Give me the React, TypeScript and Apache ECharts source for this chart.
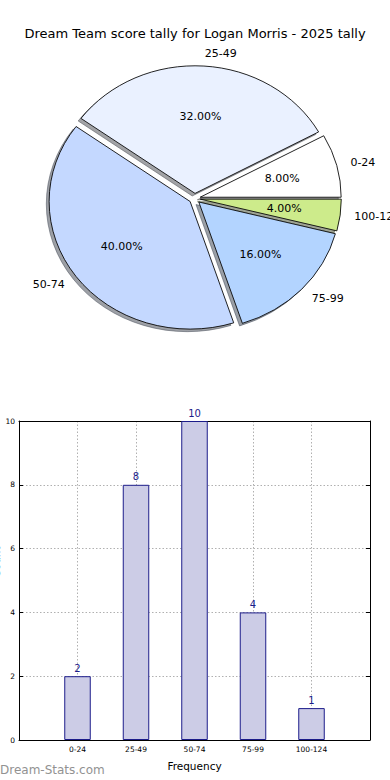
import React, { useEffect, useRef } from 'react';
import * as echarts from 'echarts';

const TITLE = 'Dream Team score tally for Logan Morris - 2025 tally';
const categories = ['0-24', '25-49', '50-74', '75-99', '100-124'];
const counts = [2, 8, 10, 4, 1];
const sliceColors = ['#ffffff', '#eaf1ff', '#c4d8ff', '#b3d4ff', '#cdeb8b'];
const yTickMax = 10;
const yTickStep = 2;
const X_NAME = 'Frequency';
const Y_NAME = 'Count';
const WATERMARK = 'Dream-Stats.com';

const FONT = '"DejaVu Sans", Verdana, sans-serif';
const CX = 194.7;
const CY = 198.5;
const RX = 141;
const RY = 127.6;
const EXPLODE = 0.04;
const SHADOW_DX = -0.02 * RX;
const SHADOW_DY = 0.02 * RY;

function shadowColor(hex: string) {
  const n = parseInt(hex.slice(1), 16);
  const r = Math.round(((n >> 16) & 255) * 0.3);
  const g = Math.round(((n >> 8) & 255) * 0.3);
  const b = Math.round((n & 255) * 0.3);
  return `rgba(${r},${g},${b},0.5)`;
}

export default function App() {
  const ref = useRef<HTMLDivElement>(null);
  useEffect(() => {
    document.body.style.margin = '0';
    const chart = echarts.init(ref.current!, null, { renderer: 'svg' });
    const total = counts.reduce((a, b) => a + b, 0);
    const starts: number[] = [];
    let acc = 0;
    counts.forEach((v) => {
      starts.push((acc / total) * 2 * Math.PI);
      acc += v;
    });
    const geom = (i: number, v: number) => {
      const a0 = starts[i];
      const a1 = a0 + (v / total) * 2 * Math.PI;
      const mid = (a0 + a1) / 2;
      const gx = CX + EXPLODE * RX * Math.cos(mid);
      const gy = CY - EXPLODE * RY * Math.sin(mid);
      return { a0, a1, mid, gx, gy };
    };
    const wedge = (gx: number, gy: number, a0: number, a1: number, style: any) => ({
      type: 'group',
      x: gx,
      y: gy,
      scaleY: RY / RX,
      children: [
        {
          type: 'sector',
          shape: { cx: 0, cy: 0, r0: 0, r: RX, startAngle: -a0, endAngle: -a1, clockwise: false },
          style,
        },
      ],
    });

    chart.setOption({
      animation: false,
      title: {
        text: TITLE,
        left: 'center',
        top: 22,
        textStyle: { fontSize: 13, fontWeight: 'normal', fontFamily: FONT, color: '#000' },
      },
      grid: { left: 19, top: 421, width: 351, height: 319, containLabel: false },
      xAxis: [
        {
          type: 'value',
          min: -1,
          max: 5,
          interval: 1,
          position: 'bottom',
          axisLine: { show: true, onZero: false, lineStyle: { color: '#000', width: 1 } },
          axisTick: { show: true, inside: true, length: 4, lineStyle: { color: '#000' } },
          axisLabel: {
            formatter: (v: number) => (categories[v] !== undefined ? categories[v] : ''),
            fontSize: 7.5,
            fontFamily: FONT,
            color: '#000',
            margin: 5,
          },
          splitLine: { show: true, lineStyle: { type: [1.5, 2], color: '#b0b0b0', width: 1 } },
          name: X_NAME,
          nameLocation: 'middle',
          nameGap: 20,
          nameTextStyle: { fontSize: 10.5, fontFamily: FONT, color: '#000' },
        },
        {
          type: 'value',
          min: -1,
          max: 5,
          interval: 1,
          position: 'top',
          axisLine: { show: true, onZero: false, lineStyle: { color: '#000', width: 1 } },
          axisTick: { show: false },
          axisLabel: { show: false },
          splitLine: { show: false },
        },
      ],
      yAxis: [
        {
          type: 'value',
          min: 0,
          max: yTickMax,
          interval: yTickStep,
          position: 'left',
          axisLine: { show: true, onZero: false, lineStyle: { color: '#000', width: 1 } },
          axisTick: { show: true, inside: true, length: 4, lineStyle: { color: '#000' } },
          axisLabel: { fontSize: 7.5, fontFamily: FONT, color: '#000', margin: 4 },
          splitLine: { show: true, lineStyle: { type: [1.5, 2], color: '#b0b0b0', width: 1 } },
        },
        {
          type: 'value',
          min: 0,
          max: yTickMax,
          interval: yTickStep,
          position: 'right',
          axisLine: { show: true, onZero: false, lineStyle: { color: '#000', width: 1 } },
          axisTick: { show: true, inside: true, length: 4, lineStyle: { color: '#000' } },
          axisLabel: { show: false },
          splitLine: { show: false },
        },
      ],
      series: [
        {
          type: 'custom',
          coordinateSystem: 'none',
          z: 1,
          silent: true,
          data: counts,
          renderItem: (params: any, api: any) => {
            const i = params.dataIndex;
            const g = geom(i, api.value(0));
            return wedge(g.gx + SHADOW_DX, g.gy + SHADOW_DY, g.a0, g.a1, {
              fill: shadowColor(sliceColors[i]),
              stroke: shadowColor(sliceColors[i]),
              lineWidth: 1,
              strokeNoScale: true,
            });
          },
        },
        {
          type: 'custom',
          coordinateSystem: 'none',
          z: 2,
          data: counts,
          renderItem: (params: any, api: any) => {
            const i = params.dataIndex;
            const v = api.value(0);
            const g = geom(i, v);
            const c = Math.cos(g.mid);
            const s = Math.sin(g.mid);
            return {
              type: 'group',
              children: [
                wedge(g.gx, g.gy, g.a0, g.a1, {
                  fill: sliceColors[i],
                  stroke: '#000',
                  lineWidth: 0.9,
                  strokeNoScale: true,
                }),
                {
                  type: 'text',
                  x: g.gx + 0.6 * RX * c,
                  y: g.gy - 0.6 * RY * s,
                  style: {
                    text: ((v / total) * 100).toFixed(2) + '%',
                    fontSize: 11,
                    fontFamily: FONT,
                    fill: '#000',
                    align: 'center',
                    verticalAlign: 'middle',
                  },
                },
                {
                  type: 'text',
                  x: g.gx + 1.1 * RX * c,
                  y: g.gy - 1.1 * RY * s,
                  style: {
                    text: categories[i],
                    fontSize: 11,
                    fontFamily: FONT,
                    fill: '#000',
                    align: c >= 0 ? 'left' : 'right',
                    verticalAlign: 'middle',
                  },
                },
              ],
            };
          },
        },
        {
          type: 'bar',
          xAxisIndex: 0,
          yAxisIndex: 0,
          z: 3,
          data: counts.map((v, i) => [i, v]),
          barWidth: 26.5,
          itemStyle: { color: '#cccce6', borderColor: '#1c1c8a', borderWidth: 1 },
          label: {
            show: true,
            position: 'top',
            distance: 3,
            formatter: (p: any) => String(p.value[1]),
            fontSize: 10,
            fontFamily: FONT,
            color: '#1c1c8a',
          },
        },
      ],
      graphic: [
        {
          type: 'text',
          x: 0,
          y: 770,
          style: {
            text: WATERMARK,
            fontSize: 12,
            fontFamily: FONT,
            fill: '#929292',
            align: 'left',
            verticalAlign: 'middle',
          },
        },
        {
          type: 'text',
          x: -4,
          y: 562,
          rotation: Math.PI / 2,
          style: {
            text: Y_NAME,
            fontSize: 10.5,
            fontFamily: FONT,
            fill: '#000',
            align: 'center',
            verticalAlign: 'middle',
          },
        },
      ],
    });
    return () => chart.dispose();
  }, []);
  return <div ref={ref} style={{ width: 390, height: 780 }} />;
}
